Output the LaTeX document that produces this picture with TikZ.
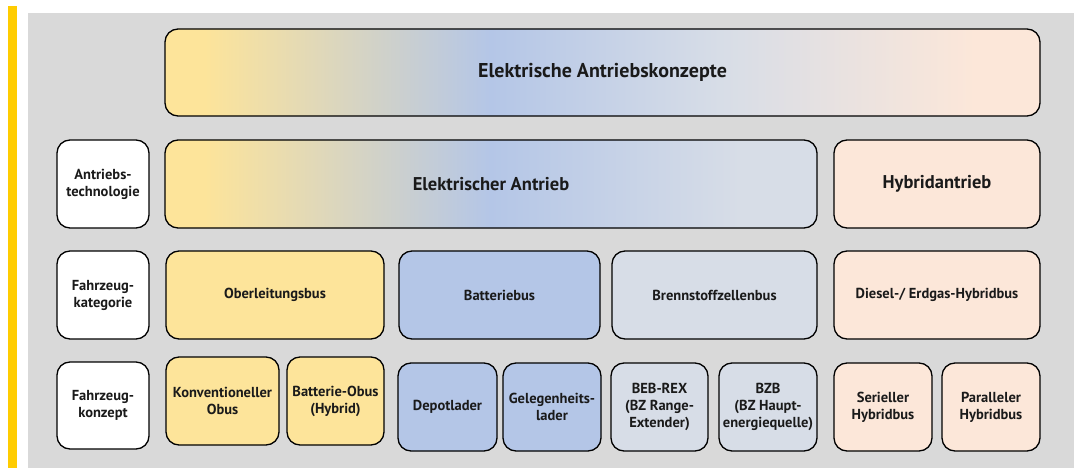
\documentclass[tikz,border=0pt]{standalone}
\usepackage{fontspec}
\setmainfont{PT Sans}
\definecolor{cyel}{HTML}{FDE49A}
\definecolor{cblue}{HTML}{B4C6E7}
\definecolor{cgrey}{HTML}{D7DDE7}
\definecolor{cpeach}{HTML}{FCE7D9}
\definecolor{cpanel}{HTML}{D9D9D9}
\definecolor{cbar}{HTML}{FFCC00}
\definecolor{ctext}{HTML}{1A1A1A}
\tikzset{
  box/.style={draw=black, line width=1.3pt, rounded corners=13pt, align=center,
    inner sep=0pt, text=ctext, font=\bfseries\fontsize{14.5}{17}\selectfont},
  bigbox/.style={box, font=\bfseries\fontsize{18.5}{21}\selectfont},
  topbox/.style={box, font=\bfseries\fontsize{20}{23}\selectfont},
}
\begin{document}
\begin{tikzpicture}[x=1pt,y=-1pt]
\useasboundingbox (0,0) rectangle (1074,468);
\fill[white] (0,0) rectangle (1074,468);
\fill[cbar] (8,6) rectangle (17,468);
\fill[cpanel] (28,13) rectangle (1074,468);
% gradient fills
\begin{scope}
  \clip[rounded corners=13pt] (165,29) rectangle (1040,116);
  \fill[cyel] (160,25) rectangle (205,120);
  \shade[left color=cyel, right color=cblue] (205,25) rectangle (490,120);
  \shade[left color=cblue, right color=cgrey] (490,25) rectangle (720,120);
  \shade[left color=cgrey, right color=cpeach] (720,25) rectangle (975,120);
  \fill[cpeach] (975,25) rectangle (1045,120);
\end{scope}
\begin{scope}
  \clip[rounded corners=13pt] (165,140) rectangle (817,228);
  \fill[cyel] (160,135) rectangle (205,232);
  \shade[left color=cyel, right color=cblue] (205,135) rectangle (490,232);
  \shade[left color=cblue, right color=cgrey] (490,135) rectangle (740,232);
  \fill[cgrey] (740,135) rectangle (822,232);
\end{scope}
% top
\node[topbox, minimum width=875pt, minimum height=87pt] (top) at (602.5,72.5) {Elektrische Antriebskonzepte};
% row 2
\node[box, fill=white, minimum width=92pt, minimum height=88pt] (l1) at (103,184) {Antriebs-\\technologie};
\node[bigbox, minimum width=652pt, minimum height=88pt] (elek) at (491,184) {Elektrischer Antrieb};
\node[bigbox, fill=cpeach, minimum width=206pt, minimum height=88pt] (hyb) at (937,184) {Hybridantrieb};
% row 3
\node[box, fill=white, minimum width=92pt, minimum height=88pt] (l2) at (103,295) {Fahrzeug-\\kategorie};
\node[box, fill=cyel, minimum width=218pt, minimum height=88pt] (ob) at (275,295) {Oberleitungsbus};
\node[box, fill=cblue, minimum width=201pt, minimum height=88pt] (bb) at (499.5,295) {Batteriebus};
\node[box, fill=cgrey, minimum width=205pt, minimum height=88pt] (bz) at (714.5,295) {Brennstoffzellenbus};
\node[box, fill=cpeach, minimum width=206pt, minimum height=88pt] (dh) at (937,295) {Diesel-/ Erdgas-Hybridbus};
% row 4
\node[box, fill=white, minimum width=92pt, minimum height=87pt] (l3) at (103,405.5) {Fahrzeug-\\konzept};
\node[box, fill=cyel, minimum width=113pt, minimum height=88pt] (ko) at (222.5,401) {Konventioneller\\Obus};
\node[box, fill=cyel, minimum width=97pt, minimum height=88pt] (bo) at (335.5,401) {Batterie-Obus\\(Hybrid)};
\node[box, fill=cblue, minimum width=99pt, minimum height=88pt] (dl) at (447.5,407) {Depotlader};
\node[box, fill=cblue, minimum width=98pt, minimum height=88pt] (gl) at (552,407) {Gelegenheits-\\lader};
\node[box, fill=cgrey, minimum width=97pt, minimum height=88pt] (br) at (659.5,407) {BEB-REX\\(BZ Range-\\Extender)};
\node[box, fill=cgrey, minimum width=98pt, minimum height=88pt] (bzb) at (768,407) {BZB\\(BZ Haupt-\\energiequelle)};
\node[box, fill=cpeach, minimum width=98pt, minimum height=88pt] (ph0) at (883,407) {Serieller\\Hybridbus};
\node[box, fill=cpeach, minimum width=98pt, minimum height=88pt] (ph) at (991,407) {Paralleler\\Hybridbus};
\end{tikzpicture}
\end{document}
